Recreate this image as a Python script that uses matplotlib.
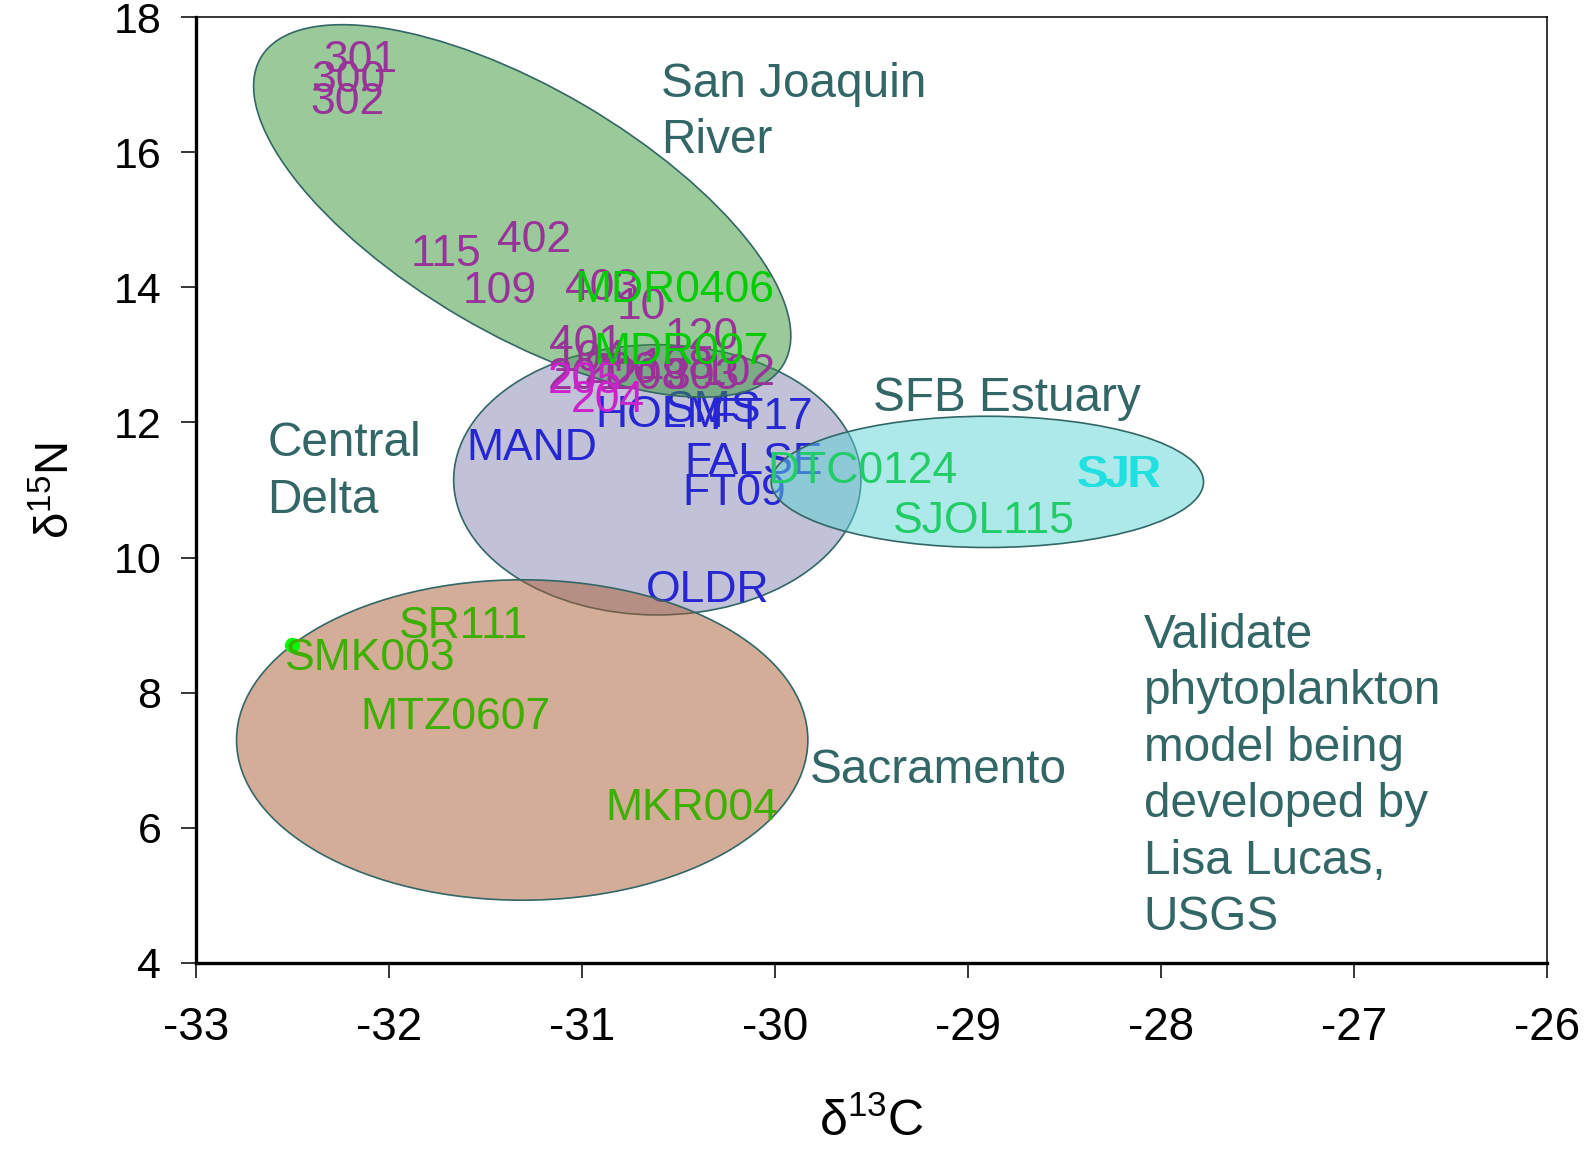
import matplotlib.pyplot as plt
from matplotlib.patches import Ellipse
from matplotlib.transforms import Affine2D

plt.rcParams['font.family'] = ['Liberation Sans', 'DejaVu Sans']
plt.rcParams['axes.unicode_minus'] = False

# --- ellipses around the source groups (centre in d13C/d15N, size in d13C units on an even visual scale)
ell_cx = [-30.61, -31.31, -31.31, -28.90]   # Central Delta, San Joaquin, Sacramento, SFB Estuary
ell_cy = [11.15, 15.13, 7.30, 11.12]
ell_w = [2.11, 3.14, 2.96, 2.24]
ell_h = [1.40, 1.27, 1.66, 0.68]
ell_ang = [0, -30.4, 0, 0]

# --- labelled samples
sj_labels = ['301', '300', '302', '115', '402', '109', '403', '10', '401', '120',
             '104', '201', '206', '208', '108', '303', '102']
sj_x = [-32.34, -32.40, -32.41, -31.89, -31.44, -31.62, -31.09, -30.82, -31.17, -30.57,
        -31.15, -31.18, -30.99, -30.84, -30.70, -30.57, -30.38]
sj_y = [17.36, 17.06, 16.73, 14.49, 14.69, 13.94, 13.98, 13.70, 13.16, 13.26,
        12.93, 12.66, 12.75, 12.66, 12.81, 12.66, 12.72]

sj2_labels = ['205', '204']
sj2_x = [-31.18, -31.06]
sj2_y = [12.60, 12.33]

mdr_labels = ['MDR0406', 'MDR007']
mdr_x = [-31.04, -30.94]
mdr_y = [13.95, 13.04]

cd_labels = ['HOLM', 'SMS', 'FT17', 'MAND', 'FALSE', 'FT09', 'OLDR']
cd_x = [-30.93, -30.57, -30.34, -31.60, -30.47, -30.48, -30.67]
cd_y = [12.10, 12.18, 12.07, 11.61, 11.40, 10.95, 9.51]

est_labels = ['DTC0124', 'SJOL115']
est_x = [-30.04, -29.39]
est_y = [11.28, 10.53]

sjr_labels = ['SJR', 'SJR']
sjr_x = [-28.44, -28.425]
sjr_y = [11.22, 11.22]

sac_labels = ['SR111', 'SMK003', 'MTZ0607', 'MKR004']
sac_x = [-31.95, -32.54, -32.15, -30.88]
sac_y = [8.98, 8.50, 7.63, 6.28]

dot_x = [-32.50]
dot_y = [8.70]

regions = ['San Joaquin\nRiver', 'SFB Estuary', 'Central\nDelta', 'Sacramento',
           'Validate\nphytoplankton\nmodel being\ndeveloped by\nLisa Lucas,\nUSGS']
reg_x = [-30.59, -29.49, -32.63, -29.82, -28.09]
reg_y = [16.59, 12.36, 11.27, 6.85, 6.76]

fig = plt.figure(figsize=(15.91, 11.49), dpi=100)
ax = fig.add_axes([0.1232, 0.1619, 0.8492, 0.8233])
ax.set_xlim(-33, -26)
ax.set_ylim(4, 18)

# keep ellipse shapes in screen proportions
bb = ax.get_window_extent()
k = (bb.width / 7.0) / (bb.height / 14.0)

fills = [(0.52, 0.52, 0.69, 0.5), (0.21, 0.59, 0.21, 0.5),
         (0.67, 0.36, 0.20, 0.5), (0.36, 0.83, 0.83, 0.5)]
zs = [1, 3, 3, 3]
for i in range(4):
    e = Ellipse((0, 0), ell_w[i], ell_h[i], angle=ell_ang[i],
                facecolor=fills[i], edgecolor='#336666', linewidth=1.2, zorder=zs[i],
                transform=Affine2D().scale(1, k).translate(ell_cx[i], ell_cy[i]) + ax.transData)
    ax.add_patch(e)

ax.scatter(dot_x, dot_y, s=120, color='#00FF00', zorder=3.5, edgecolors='none')

lab_fs = 32
def put(labels, xs, ys, color, fs=lab_fs, z=4):
    for t, x, y in zip(labels, xs, ys):
        ax.text(x, y, t, color=color, fontsize=fs, ha='left', va='center', zorder=z)

put(cd_labels, cd_x, cd_y, '#2626D2', z=2)
put(sj_labels, sj_x, sj_y, '#993399')
put(sj2_labels, sj2_x, sj2_y, '#CC22CC')
put(mdr_labels, mdr_x, mdr_y, '#00CC00')
put(est_labels, est_x, est_y, '#22CC66')
put(sjr_labels, sjr_x, sjr_y, '#22E0E0')
put(sac_labels, sac_x, sac_y, '#3DAF00')

for t, x, y in zip(regions, reg_x, reg_y):
    ax.text(x, y, t, color='#336666', fontsize=34.4, ha='left', va='center',
            linespacing=1.33, zorder=5)

# axes styling
ax.set_xticks(range(-33, -25))
ax.set_yticks(range(4, 19, 2))
ax.tick_params(direction='out', length=11, width=1.1, colors='black')
ax.tick_params(axis='y', labelsize=31, pad=14)
ax.tick_params(axis='x', labelsize=33, pad=20)
for s in ['left', 'bottom']:
    ax.spines[s].set_linewidth(2.4)
for s in ['top', 'right']:
    ax.spines[s].set_linewidth(1.1)

ax.set_xlabel(r'$\mathregular{\delta^{13}}$C', fontsize=36)
ax.xaxis.set_label_coords(0.5, -0.143)
ax.set_ylabel(r'$\mathregular{\delta^{15}}$N', fontsize=34)
ax.yaxis.set_label_coords(-0.086, 0.5)

fig.savefig('out.png', dpi=100)
